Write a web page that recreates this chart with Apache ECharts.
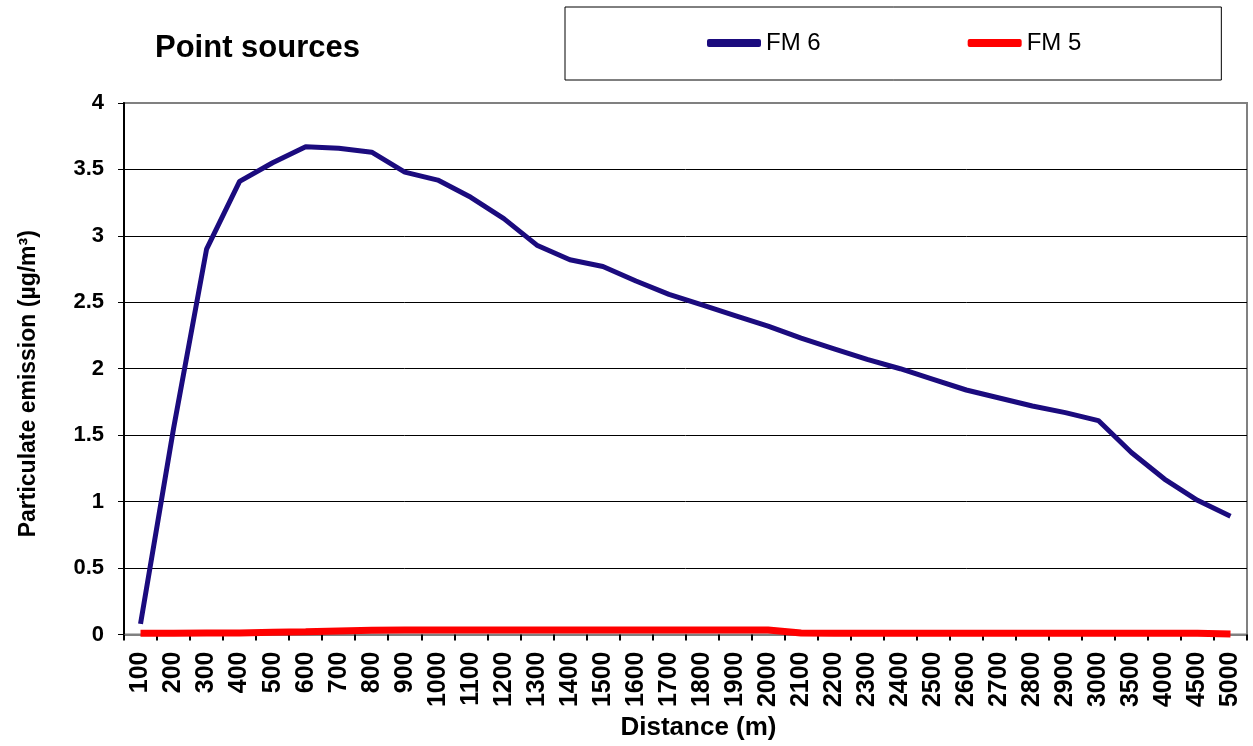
<!DOCTYPE html>
<html>
<head>
<meta charset="utf-8">
<script src="https://cdn.jsdelivr.net/npm/echarts@6/dist/echarts.min.js"></script>
<style>
  html, body { margin: 0; padding: 0; background: #fff; }
  #chart { width: 1253px; height: 746px; }
</style>
</head>
<body>
<div id="chart"></div>
<script type="text/javascript">
    // distance categories (m)
    var distances = ['100','200','300','400','500','600','700','800','900','1000',
                     '1100','1200','1300','1400','1500','1600','1700','1800','1900','2000',
                     '2100','2200','2300','2400','2500','2600','2700','2800','2900','3000',
                     '3500','4000','4500','5000'];
    // FM 6
    var fm6 = [0.08, 1.55, 2.9, 3.41, 3.55, 3.67, 3.66, 3.63, 3.48, 3.42,
               3.29, 3.13, 2.93, 2.82, 2.77, 2.66, 2.56, 2.48, 2.4, 2.32,
               2.23, 2.15, 2.07, 2.0, 1.92, 1.84, 1.78, 1.72, 1.67, 1.61,
               1.37, 1.17, 1.01, 0.89];
    // FM 5
    var fm5 = [0.01, 0.01, 0.011, 0.012, 0.016, 0.02, 0.026, 0.032, 0.033, 0.033,
               0.033, 0.033, 0.033, 0.033, 0.033, 0.033, 0.033, 0.033, 0.033, 0.033,
               0.012, 0.01, 0.01, 0.01, 0.01, 0.01, 0.01, 0.01, 0.01, 0.01,
               0.01, 0.01, 0.009, 0.004];
    var yTicks = [0, 0.5, 1, 1.5, 2, 2.5, 3, 3.5, 4];

    var font = "'Liberation Sans', Arial, sans-serif";
    var myChart = echarts.init(document.getElementById('chart'));

    // split line colours: top one is the grey plot border
    var splitColors = yTicks.map(function (v, i) {
        return i === yTicks.length - 1 ? '#808080' : '#000000';
    });

    var option = {
        backgroundColor: '#fff',
        animation: false,
        title: {
            text: 'Point sources',
            left: 150,
            top: 28,
            textStyle: { fontFamily: font, fontSize: 31, fontWeight: 'bold', color: '#000' }
        },
        legend: {
            left: 565,
            top: 7,
            padding: [24, 140, 25, 142],
            borderColor: '#000',
            borderWidth: 1,
            itemGap: 147,
            itemWidth: 54,
            itemHeight: 8,
            icon: 'roundRect',
            textStyle: { fontFamily: font, fontSize: 24, color: '#000', lineHeight: 24 },
            data: ['FM 6', 'FM 5']
        },
        grid: {
            left: 124,
            right: 6,
            top: 103,
            bottom: 105,
            show: true,
            borderColor: '#808080',
            borderWidth: 2,
            containLabel: false
        },
        xAxis: {
            type: 'category',
            data: distances,
            boundaryGap: true,
            name: 'Distance (m)',
            nameLocation: 'middle',
            nameGap: 76,
            nameTextStyle: { fontFamily: font, fontSize: 26, fontWeight: 'bold', color: '#000', padding: [0, 0, 0, 26] },
            axisLine: { lineStyle: { color: '#808080', width: 2 } },
            axisTick: { show: true, interval: 0, length: 6, alignWithLabel: false, lineStyle: { color: '#000', width: 2 } },
            axisLabel: {
                interval: 0,
                rotate: 90,
                margin: 17,
                fontFamily: font,
                fontSize: 25,
                fontWeight: 'bold',
                color: '#000'
            },
            splitLine: { show: false }
        },
        yAxis: {
            type: 'value',
            min: 0,
            max: 4,
            interval: 0.5,
            name: 'Particulate emission (µg/m³)',
            nameLocation: 'middle',
            nameGap: 84,
            nameTextStyle: { fontFamily: font, fontSize: 23, fontWeight: 'bold', color: '#000', padding: [0, 30, 0, 0] },
            axisLine: { show: true, lineStyle: { color: '#000', width: 2 } },
            axisTick: { show: true, length: 6, lineStyle: { color: '#000', width: 1 } },
            axisLabel: {
                margin: 20,
                fontFamily: font,
                fontSize: 22,
                fontWeight: 'bold',
                color: '#000'
            },
            splitLine: { show: true, lineStyle: { color: splitColors, width: 1 } }
        },
        series: [
            {
                name: 'FM 6',
                type: 'line',
                data: fm6,
                symbol: 'none',
                color: '#1b0b7e',
                lineStyle: { color: '#1b0b7e', width: 5 },
                z: 3
            },
            {
                name: 'FM 5',
                type: 'line',
                data: fm5,
                symbol: 'none',
                color: '#ff0000',
                lineStyle: { color: '#ff0000', width: 7 },
                z: 4
            }
        ]
    };
    myChart.setOption(option);
</script>
</body>
</html>
